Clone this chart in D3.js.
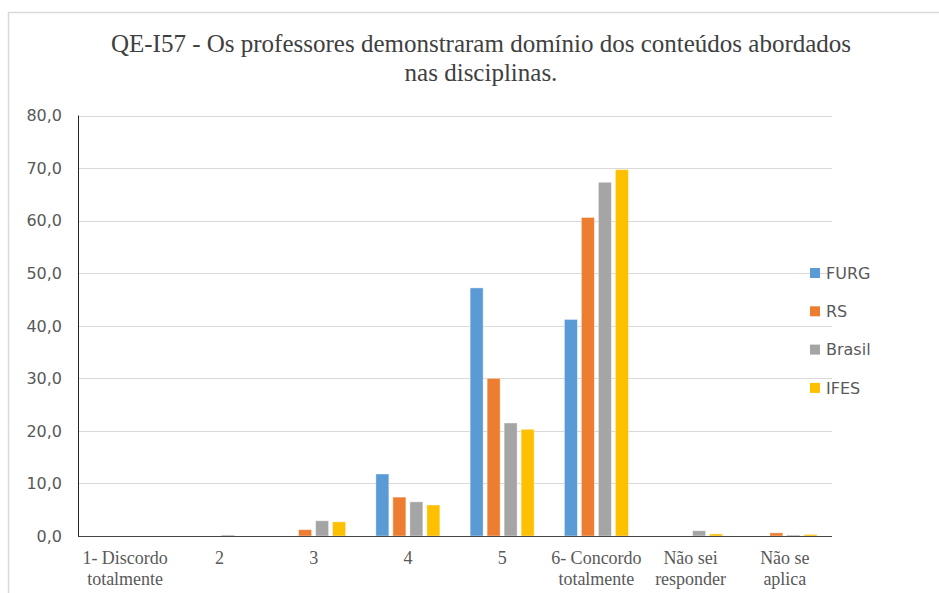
<!DOCTYPE html>
<html><head><meta charset="utf-8">
<script src="https://cdn.jsdelivr.net/npm/d3@7"></script>
<style>body{margin:0;background:#fff}svg{display:block}
.serif{font-family:"Liberation Serif","Times New Roman",Times,"DejaVu Serif",serif}
.sans{font-family:"DejaVu Sans",Verdana,sans-serif}
</style>
</head><body>
<script>
const categories = [["1- Discordo","totalmente"],["2"],["3"],["4"],["5"],["6- Concordo","totalmente"],["Não sei","responder"],["Não se","aplica"]];
const seriesNames = ["FURG","RS","Brasil","IFES"];
const seriesColors = ["#5B9BD5","#ED7D31","#A5A5A5","#FFC000"];
const furg   = [0, 0,   0,   11.8, 47.2, 41.2, 0,   0];
const rs     = [0, 0,   1.2, 7.4,  30.0, 60.6, 0,   0.6];
const brasil = [0, 0.2, 2.9, 6.5,  21.5, 67.3, 1.0, 0.2];
const ifes   = [0, 0,   2.7, 5.9,  20.3, 69.7, 0.4, 0.3];
const yTicks = [0,10,20,30,40,50,60,70,80];
const titleLines = ["QE-I57 - Os professores demonstraram domínio dos conteúdos abordados","nas disciplinas."];

(function(){
const W = 939, H = 593;
const svg = d3.select("body").append("svg").attr("width", W).attr("height", H);

// outer frame
svg.append("path").attr("d", `M8.5,${H} L8.5,12.5 L${W},12.5`).attr("fill","none").attr("stroke","#D9D9D9").attr("stroke-width",1.5);

const pLeft = 78, pRight = 832, pTop = 115.5, pBottom = 536;
const series = [furg, rs, brasil, ifes];
const x0 = d3.scaleBand().domain(d3.range(categories.length)).range([pLeft, pRight]).paddingInner(0).paddingOuter(0);
const y = d3.scaleLinear().domain([0,80]).range([pBottom, pTop]);

// gridlines
svg.append("g").selectAll("line").data(yTicks.filter(d=>d>0)).join("line")
  .attr("x1", pLeft).attr("x2", pRight)
  .attr("y1", d=>Math.round(y(d))+0.5).attr("y2", d=>Math.round(y(d))+0.5)
  .attr("stroke","#D9D9D9").attr("stroke-width",1);

// bars
const barW = 13, barStep = 17;
const groupW = barW*4 + (barStep-barW)*3;
series.forEach((vals, si) => {
  svg.append("g").selectAll("rect").data(vals).join("rect")
    .attr("x", (d,i) => x0(i) + x0.bandwidth()/2 - groupW/2 + si*barStep)
    .attr("width", barW)
    .attr("y", d => y(d))
    .attr("height", d => pBottom - y(d))
    .attr("fill", seriesColors[si])
    .attr("stroke", "#fff").attr("stroke-opacity", 0.5).attr("stroke-width", 0.8);
});

// axes lines
svg.append("line").attr("x1", pLeft+0.5).attr("x2", pLeft+0.5).attr("y1", pTop).attr("y2", pBottom).attr("stroke","#222").attr("stroke-width",1);
svg.append("line").attr("x1", pLeft).attr("x2", pRight).attr("y1", pBottom+0.5).attr("y2", pBottom+0.5).attr("stroke","#444").attr("stroke-width",1);

// y tick labels
svg.append("g").selectAll("text").data(yTicks).join("text")
  .attr("class","sans")
  .attr("x", 62).attr("y", d => y(d)).attr("dy","0.36em")
  .attr("text-anchor","end")
  .attr("font-size",16)
  .attr("fill","#595959")
  .text(d => d3.format(".1f")(d).replace(".", ","));

// category labels
const cat = svg.append("g").selectAll("text").data(categories).join("text")
  .attr("class","serif")
  .attr("x", (d,i) => x0(i) + x0.bandwidth()/2)
  .attr("y", 564)
  .attr("text-anchor","middle")
  .attr("font-size",18)
  .attr("fill","#595959");
cat.selectAll("tspan").data(d=>d).join("tspan")
  .attr("x", function(){ return this.parentNode.getAttribute("x"); })
  .attr("dy", (d,i) => i===0 ? 0 : 21)
  .text(d=>d);

// title
svg.append("g").selectAll("text").data(titleLines).join("text")
  .attr("class","serif")
  .attr("x", 481).attr("y", (d,i) => 52 + i*29)
  .attr("text-anchor","middle")
  .attr("font-size",25)
  .attr("fill","#404040")
  .text(d=>d);

// legend
const lg = svg.append("g").selectAll("g").data(seriesNames).join("g")
  .attr("transform", (d,i) => `translate(810, ${273 + i*38.3})`);
lg.append("rect").attr("x",0).attr("y",-5).attr("width",10).attr("height",10).attr("fill",(d,i)=>seriesColors[i]);
lg.append("text").attr("class","sans").attr("x",16).attr("y",0).attr("dy","0.36em")
  .attr("font-size",16)
  .attr("fill","#595959").text(d=>d);
})();
</script>
</body></html>
